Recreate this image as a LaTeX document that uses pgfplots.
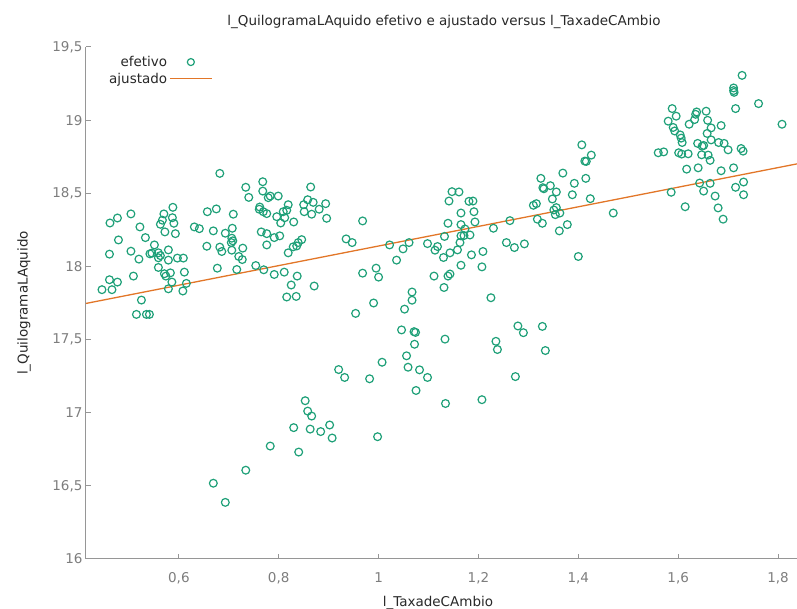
\documentclass[border=0pt]{standalone}
\usepackage{fontspec}
\setmainfont{DejaVu Sans}
\usepackage{pgfplots}
\usepackage{pgfplotstable}
\pgfplotsset{compat=1.18}
\definecolor{pts}{RGB}{30,160,120}
\definecolor{fit}{RGB}{226,118,40}
\definecolor{axgray}{RGB}{150,150,150}
\definecolor{ticktxt}{RGB}{125,125,125}
\definecolor{labtxt}{RGB}{40,40,40}
\pgfplotstableread{
x y
0.682 18.636
0.768 18.579
0.734 18.541
0.768 18.515
0.740 18.472
0.588 18.404
0.675 18.393
0.657 18.374
0.762 18.406
0.761 18.391
0.769 18.374
0.776 18.361
0.504 18.359
0.570 18.359
0.709 18.357
0.477 18.331
0.462 18.297
0.587 18.333
0.567 18.316
0.563 18.288
0.590 18.295
0.522 18.270
0.631 18.270
0.641 18.258
0.707 18.261
0.669 18.243
0.693 18.227
0.572 18.236
0.593 18.224
0.765 18.236
0.776 18.224
0.533 18.197
0.706 18.193
0.708 18.175
0.705 18.163
0.479 18.181
0.551 18.147
0.656 18.138
0.682 18.132
0.686 18.102
0.728 18.125
0.776 18.147
0.504 18.104
0.579 18.113
0.542 18.086
0.546 18.091
0.559 18.093
0.563 18.074
0.706 18.111
0.461 18.084
0.520 18.050
0.559 18.059
0.579 18.043
0.597 18.057
0.609 18.057
0.720 18.068
0.727 18.047
0.559 17.993
0.677 17.988
0.716 17.979
0.754 18.006
0.770 17.977
0.571 17.950
0.574 17.934
0.583 17.956
0.611 17.961
0.509 17.934
0.461 17.909
0.477 17.893
0.586 17.893
0.615 17.884
0.446 17.841
0.466 17.841
0.579 17.847
0.608 17.832
0.525 17.770
0.515 17.672
0.535 17.672
0.541 17.672
0.864 18.543
0.783 18.481
0.799 18.481
0.779 18.470
0.858 18.456
0.850 18.422
0.869 18.438
0.894 18.429
0.819 18.422
0.809 18.374
0.816 18.384
0.851 18.374
0.866 18.357
0.881 18.391
0.796 18.340
0.804 18.297
0.812 18.333
0.830 18.304
0.896 18.329
0.968 18.311
0.791 18.197
0.802 18.209
0.846 18.183
0.839 18.163
0.836 18.140
0.829 18.134
0.819 18.093
0.935 18.188
0.947 18.163
1.022 18.147
1.049 18.120
1.061 18.163
1.098 18.156
1.118 18.136
1.113 18.111
1.132 18.205
1.130 18.061
1.036 18.043
0.791 17.945
0.811 17.961
0.837 17.934
0.825 17.873
0.871 17.866
0.816 17.791
0.835 17.795
0.968 17.954
0.995 17.988
1.000 17.927
1.111 17.934
1.131 17.856
1.067 17.825
1.067 17.769
1.052 17.708
0.990 17.750
0.954 17.679
1.046 17.566
1.071 17.554
1.074 17.549
1.072 17.468
1.056 17.389
1.007 17.345
1.059 17.311
1.082 17.293
1.098 17.241
0.920 17.295
0.932 17.241
0.982 17.232
1.075 17.152
1.133 17.503
1.407 18.831
1.426 18.761
1.413 18.720
1.416 18.718
1.369 18.638
1.325 18.602
1.415 18.602
1.392 18.568
1.344 18.552
1.329 18.538
1.331 18.531
1.356 18.509
1.388 18.490
1.147 18.511
1.161 18.509
1.348 18.461
1.424 18.463
1.141 18.447
1.181 18.445
1.189 18.447
1.310 18.418
1.316 18.429
1.356 18.402
1.351 18.386
1.354 18.354
1.363 18.365
1.470 18.365
1.165 18.365
1.191 18.374
1.193 18.304
1.139 18.295
1.165 18.286
1.173 18.256
1.263 18.313
1.318 18.323
1.328 18.295
1.230 18.261
1.378 18.286
1.362 18.243
1.165 18.209
1.171 18.211
1.183 18.215
1.256 18.163
1.272 18.129
1.292 18.154
1.163 18.163
1.158 18.113
1.143 18.093
1.186 18.079
1.209 18.102
1.400 18.068
1.165 18.008
1.207 17.997
1.143 17.948
1.139 17.934
1.225 17.786
1.279 17.593
1.290 17.547
1.328 17.590
1.235 17.488
1.238 17.432
1.334 17.425
1.274 17.247
1.134 17.063
1.207 17.089
1.728 19.306
1.711 19.220
1.711 19.202
1.712 19.190
1.761 19.113
1.588 19.079
1.596 19.027
1.580 18.993
1.590 18.950
1.593 18.926
1.637 19.056
1.635 19.040
1.633 19.004
1.656 19.061
1.659 18.999
1.715 19.079
1.622 18.972
1.686 18.963
1.808 18.972
1.666 18.947
1.658 18.909
1.604 18.899
1.606 18.877
1.608 18.847
1.666 18.865
1.681 18.847
1.692 18.841
1.639 18.841
1.648 18.822
1.651 18.827
1.700 18.797
1.726 18.806
1.730 18.788
1.560 18.777
1.571 18.783
1.601 18.777
1.607 18.768
1.620 18.770
1.647 18.763
1.660 18.761
1.664 18.725
1.617 18.665
1.640 18.674
1.686 18.654
1.711 18.674
1.643 18.570
1.664 18.568
1.731 18.577
1.715 18.541
1.731 18.490
1.586 18.507
1.651 18.515
1.674 18.481
1.614 18.408
1.680 18.400
1.690 18.323
0.853 17.082
0.858 17.011
0.866 16.977
0.830 16.898
0.863 16.888
0.884 16.871
0.902 16.916
0.907 16.827
0.998 16.836
0.783 16.772
0.840 16.731
0.734 16.607
0.669 16.518
0.693 16.387
}\efetivo
\begin{document}
\begin{tikzpicture}[x=1pt,y=1pt]
\useasboundingbox (-86,-50) rectangle (711,559);
\begin{axis}[
  at={(0,0)}, anchor=south west,
  scale only axis, width=711pt, height=512pt,
  xmin=0.414, xmax=1.838, ymin=16, ymax=19.5,
  axis x line*=bottom, axis y line*=left,
  axis line style={axgray, line width=1pt, -},
  xtick={0.6,0.8,1,1.2,1.4,1.6,1.8},
  ytick={16,16.5,17,17.5,18,18.5,19,19.5},
  tick align=inside, major tick length=5pt,
  tick style={axgray, line width=1pt},
  /pgf/number format/use comma,
  /pgf/number format/assume math mode=true,
  ticklabel style={font=\fontsize{13.5}{16}\selectfont, text=ticktxt},
  xticklabel style={yshift=-10pt},
  title={l\_QuilogramaLAquido efetivo e ajustado versus l\_TaxadeCAmbio},
  title style={at={([yshift=19pt]axis description cs:0.5035,1)}, anchor=center, font=\fontsize{13.5}{16}\selectfont, text=labtxt},
  xlabel={l\_TaxadeCAmbio},
  xlabel style={at={([yshift=-44pt]axis description cs:0.495,0)}, anchor=center, font=\fontsize{13.5}{16}\selectfont, text=labtxt},
  ylabel={l\_QuilogramaLAquido},
  ylabel style={at={([xshift=-62pt]axis description cs:0,0.5)}, anchor=center, font=\fontsize{13.5}{16}\selectfont, text=labtxt},
  legend style={at={([xshift=18pt,yshift=-5pt]axis description cs:0,1)}, anchor=north west, draw=none, fill=none,
    font=\fontsize{13.5}{16}\selectfont, text=labtxt, legend plot pos=right, legend cell align=right,
    row sep=1pt},
]
\addplot[only marks, mark=o, mark size=3.9pt, draw=pts, line width=1.2pt,
  legend image code/.code={\draw[pts, line width=1.2pt] (28pt,0) circle (3.5pt);}]
  table[x=x, y=y] {\efetivo};
\addlegendentry{efetivo}
\addplot[fit, line width=1.3pt, no marks,
  legend image code/.code={\draw[fit, line width=1.3pt] (7pt,0) -- (49pt,0);}]
  coordinates {(0.414,17.747) (1.838,18.701)};
\addlegendentry{ajustado}
\end{axis}
\end{tikzpicture}
\end{document}
